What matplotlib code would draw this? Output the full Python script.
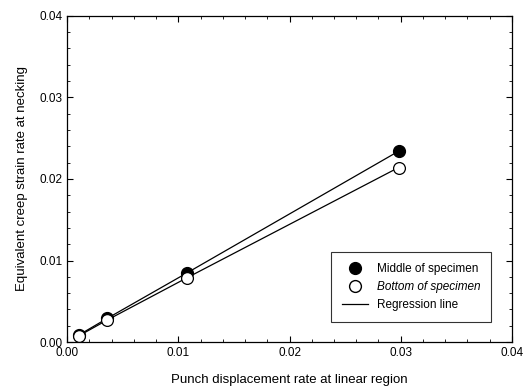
import matplotlib.pyplot as plt
from matplotlib.ticker import MultipleLocator, FormatStrFormatter
from matplotlib.lines import Line2D

plt.rcParams['font.family'] = ['Liberation Sans', 'DejaVu Sans']

x_rate = [0.0011, 0.0036, 0.0108, 0.0298]
middle = [0.0009, 0.0029, 0.0085, 0.0234]
bottom = [0.0008, 0.0027, 0.0079, 0.0214]


def main():
    fig = plt.figure(figsize=(5.24, 3.87), dpi=100)
    ax = fig.add_axes([0.128, 0.116, 0.849, 0.843])

    ax.plot(x_rate, middle, color='black', lw=0.9, marker='o', ms=8.5,
            mfc='black', mec='black', zorder=3)
    ax.plot(x_rate, bottom, color='black', lw=0.9, marker='o', ms=8.5,
            mfc='white', mec='black', mew=0.9, zorder=4)

    ax.set_xlim(0, 0.04)
    ax.set_ylim(0, 0.04)
    ax.xaxis.set_major_locator(MultipleLocator(0.01))
    ax.yaxis.set_major_locator(MultipleLocator(0.01))
    ax.xaxis.set_minor_locator(MultipleLocator(0.002))
    ax.yaxis.set_minor_locator(MultipleLocator(0.002))
    ax.xaxis.set_major_formatter(FormatStrFormatter('%.2f'))
    ax.yaxis.set_major_formatter(FormatStrFormatter('%.2f'))
    ax.tick_params(which='both', direction='in', top=True, right=True, labelsize=8.5)
    ax.tick_params(which='major', length=4, width=0.8)
    ax.tick_params(which='minor', length=2, width=0.6)
    for s in ax.spines.values():
        s.set_linewidth(0.9)

    ax.set_xlabel('Punch displacement rate at linear region', fontsize=9.5, labelpad=11)
    ax.set_ylabel('Equivalent creep strain rate at necking', fontsize=9.5, labelpad=8)

    handles = [
        Line2D([], [], ls='none', marker='o', ms=8.5, mfc='black', mec='black'),
        Line2D([], [], ls='none', marker='o', ms=8.5, mfc='white', mec='black'),
        Line2D([], [], color='black', lw=0.9),
    ]
    leg = ax.legend(handles, ['Middle of specimen', 'Bottom of specimen', 'Regression line'],
                    loc='lower right', bbox_to_anchor=(0.967, 0.045), fontsize=8.5,
                    frameon=True, fancybox=False, edgecolor='black',
                    handlelength=2.2, borderpad=0.9, labelspacing=0.5)
    leg.get_frame().set_linewidth(0.8)
    leg.get_texts()[1].set_style('italic')

    fig.savefig('out.png', dpi=100)


if __name__ == "__main__":
    main()
